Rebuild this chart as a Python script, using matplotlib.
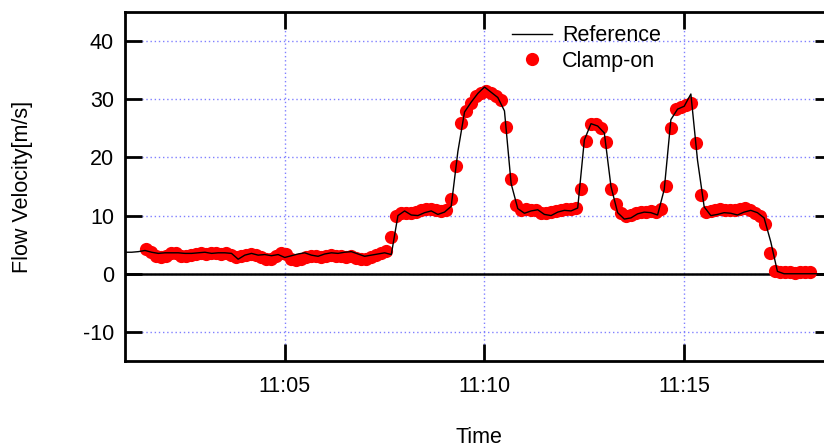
import pandas as pd
import matplotlib
matplotlib.use("Agg")
import matplotlib.pyplot as plt
import matplotlib.dates as mdates

plt.rcParams['font.family'] = ['Liberation Sans', 'DejaVu Sans']
plt.rcParams['axes.unicode_minus'] = False

# clamp-on meter readings, one every 7.5 s
clamp_start = '2000-01-01 11:01:32'
clamp_step = '7500ms'
clamp_vel = [
    4.3, 3.7, 3.1, 2.8, 3.0, 3.6, 3.5, 3.1, 3.0, 3.2,
    3.4, 3.5, 3.4, 3.6, 3.5, 3.4, 3.6, 3.3, 2.9, 3.1,
    3.3, 3.4, 3.2, 2.9, 2.5, 2.6, 3.1, 3.6, 3.4, 2.5,
    2.4, 2.6, 2.8, 3.0, 3.1, 2.8, 3.0, 3.2, 3.1, 3.0,
    2.9, 3.0, 2.7, 2.5, 2.6, 2.9, 3.2, 3.5, 3.9,
    6.4,
    10.0, 10.4, 10.5, 10.4, 10.6, 10.9, 11.1, 11.2, 10.9, 10.8, 11.0,
    12.9, 18.6, 26.0, 28.0, 29.3, 30.5, 31.1, 31.4, 31.0, 30.5, 29.8, 25.2, 16.3, 11.9,
    11.0, 11.2, 10.9, 11.0, 10.5, 10.4, 10.6, 10.8, 11.0, 11.1, 11.2, 11.3,
    14.5, 22.8, 25.7, 25.8, 25.0, 22.7, 14.5, 12.0,
    10.5, 10.0, 10.1, 10.4, 10.6, 10.7, 10.8, 10.6, 11.2,
    15.1, 25.1, 28.3, 28.7, 29.0, 29.3, 22.4, 13.6,
    10.7, 10.8, 10.9, 11.1, 11.0, 10.9, 11.0, 11.2, 11.3, 11.0,
    10.5, 9.9, 8.6, 3.5,
    0.4, 0.3, 0.3, 0.3, 0.2, 0.3, 0.3, 0.3,
]

# reference meter, one reading every 10 s
ref_start = '2000-01-01 11:01:00'
ref_step = '10s'
ref_vel = [
    3.7, 3.7, 3.8, 4.0, 3.7, 3.5, 3.6, 3.6, 3.6, 3.5,
    3.5, 3.6, 3.7, 3.5, 3.6, 3.6, 3.5, 2.5, 3.2, 3.5,
    3.2, 3.3, 3.1, 3.3, 2.8, 3.1, 3.4, 3.6, 3.2, 3.0,
    3.4, 3.6, 3.5, 3.7, 3.8, 3.4, 3.0, 3.2, 3.4, 3.6,
    3.3,
    10.0, 10.8, 10.1, 10.0, 10.5, 10.8, 10.2, 10.6,
    11.6, 21.0, 27.8, 29.5, 31.0, 32.1, 31.2, 30.3, 28.0, 15.5, 11.2, 10.4,
    10.8, 11.0, 10.2, 10.0, 10.6, 10.9, 10.8,
    11.3, 23.0, 25.8, 25.4, 24.2, 15.0, 10.5, 9.4, 9.6,
    10.3, 10.6, 10.5, 10.1,
    14.5, 26.5, 28.3, 28.8, 30.9, 19.5, 11.5, 10.0,
    10.2, 10.5, 10.4, 10.1, 10.6, 10.9, 10.5, 9.6, 5.5,
    0.4,
    0.0, 0.0, 0.0, 0.0, 0.0, 0.0, 0.0, 0.0, 0.0,
]

y_ticks = [-10, 0, 10, 20, 30, 40]

clamp_t = pd.date_range(clamp_start, periods=len(clamp_vel), freq=clamp_step)
ref_t = pd.date_range(ref_start, periods=len(ref_vel), freq=ref_step)

fig = plt.figure(figsize=(8.24, 4.47), dpi=100)
# right edge of the frame runs just past the canvas
ax = fig.add_axes([125 / 824, 86 / 447, 707 / 824, 349 / 447])

ax.grid(True, color='#8080ff', linestyle=(0, (1, 2)), linewidth=1.0)
ax.axhline(0, color='black', linewidth=1.8, zorder=2)

ax.plot(clamp_t, clamp_vel, 'o', color='#ff0000', markersize=9.5,
        markeredgewidth=0, label='Clamp-on', zorder=3)
ax.plot(ref_t, ref_vel, color='black', linewidth=1.0, label='Reference', zorder=4)

ax.set_ylim(-15, 45)
ax.set_yticks(y_ticks)
ax.set_xlim(pd.Timestamp('2000-01-01 11:01:00'), pd.Timestamp('2000-01-01 11:18:42'))
ax.xaxis.set_major_locator(mdates.MinuteLocator(byminute=[5, 10, 15]))
ax.xaxis.set_major_formatter(mdates.DateFormatter('%H:%M'))

for s in ax.spines.values():
    s.set_linewidth(2.0)
ax.tick_params(direction='in', length=12, width=2.0, labelsize=15.5,
               top=True, right=True, colors='black')
ax.tick_params(axis='x', pad=11)
ax.tick_params(axis='y', pad=8)

ax.set_xlabel('Time', fontsize=15.5)
ax.xaxis.set_label_coords(0.5, -0.188)
ax.set_ylabel('Flow Velocity[m/s]', fontsize=15.5)
ax.yaxis.set_label_coords(-0.13, 0.5)

handles, labels = ax.get_legend_handles_labels()
ax.legend(handles[::-1], labels[::-1], loc='upper left',
          bbox_to_anchor=(0.547, 0.962), frameon=False, fontsize=15.5,
          handlelength=1.85, handletextpad=0.5, labelspacing=0.22,
          borderpad=0, borderaxespad=0)

fig.savefig('out.png', dpi=100)
